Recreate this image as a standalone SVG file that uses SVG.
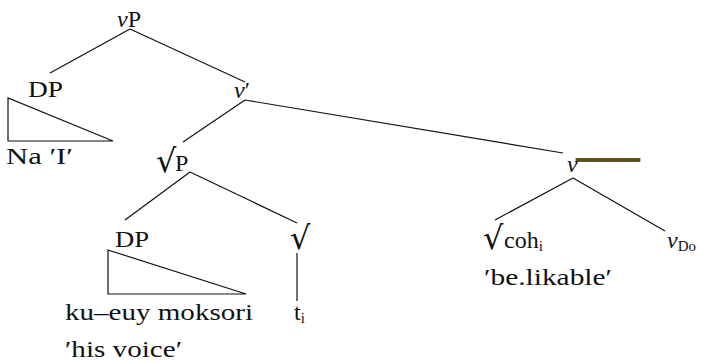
<svg xmlns="http://www.w3.org/2000/svg" width="702" height="363" viewBox="0 0 702 363">
  <style>
    .edges line, .edges polyline { stroke: #111; stroke-width: 1.2; fill: none; }
  </style>

  <!-- tree edges -->
  <g id="edges" class="edges">
    <line x1="130" y1="29" x2="50" y2="73"/>
    <line x1="130" y1="29" x2="245" y2="82"/>
    <line x1="245" y1="100" x2="183" y2="142"/>
    <line x1="245" y1="100" x2="563" y2="153"/>
    <line x1="190" y1="172" x2="125" y2="220"/>
    <line x1="190" y1="172" x2="297" y2="223"/>
    <line x1="297" y1="253" x2="297" y2="301"/>
    <line x1="573" y1="178" x2="495" y2="220"/>
    <line x1="573" y1="178" x2="665" y2="231"/>
    <!-- triangles -->
    <polyline points="113,141 8,98 8,141 113,141"/>
    <polyline points="246,294 108,250 108,294 246,294"/>
  </g>

  <g id="vP"><text x="117" y="27" font-family="Liberation Serif" font-size="24" fill="#111"><tspan font-style="italic">v</tspan>P</text></g>
  <g id="DP1">
    <text x="28" y="97" font-family="Liberation Serif" font-size="24" fill="#111" textLength="35" lengthAdjust="spacingAndGlyphs">DP</text>
    <text x="6" y="164" font-family="Liberation Serif" font-size="24" fill="#111" textLength="67" lengthAdjust="spacingAndGlyphs">Na  ′I′</text>
  </g>
  <g id="vbar"><text x="234" y="98" font-family="Liberation Serif" font-size="24" fill="#111"><tspan font-style="italic">v</tspan>′</text></g>
  <g id="rootP">
    <text x="156" y="172" font-family="DejaVu Serif" font-size="32" fill="#111">√</text>
    <text x="175" y="171" font-family="Liberation Serif" font-size="24" fill="#111">P</text>
  </g>
  <g id="DP2">
    <text x="115" y="247" font-family="Liberation Serif" font-size="24" fill="#111" textLength="34" lengthAdjust="spacingAndGlyphs">DP</text>
    <text x="65" y="320" font-family="Liberation Serif" font-size="24" fill="#111" textLength="188" lengthAdjust="spacingAndGlyphs">ku–euy   moksori</text>
    <text x="65" y="357" font-family="Liberation Serif" font-size="24" fill="#111" textLength="117" lengthAdjust="spacingAndGlyphs">′his  voice′</text>
  </g>
  <g id="root">
    <text x="290" y="249" font-family="DejaVu Serif" font-size="32" fill="#111">√</text>
    <text x="294" y="320" font-family="Liberation Serif" font-size="24" fill="#111">t<tspan font-size="15" dy="3">i</tspan></text>
  </g>
  <g id="v">
    <text x="567" y="172" font-family="Liberation Serif" font-size="24" font-style="italic" fill="#111">v</text>
    <rect x="576" y="158.5" width="64" height="3" fill="#5a5200" stroke="#222" stroke-width="0.6"/>
  </g>
  <g id="rootcoh">
    <text x="483" y="249" font-family="DejaVu Serif" font-size="32" fill="#111">√</text>
    <text x="504" y="248" font-family="Liberation Serif" font-size="24" fill="#111">coh<tspan font-size="15" dy="3">i</tspan></text>
    <text x="484" y="285" font-family="Liberation Serif" font-size="24" fill="#111" textLength="128" lengthAdjust="spacingAndGlyphs">′be.likable′</text>
  </g>
  <g id="vDo"><text x="667" y="248" font-family="Liberation Serif" font-size="24" fill="#111"><tspan font-style="italic">v</tspan><tspan font-size="15" dy="3">Do</tspan></text></g>
</svg>
